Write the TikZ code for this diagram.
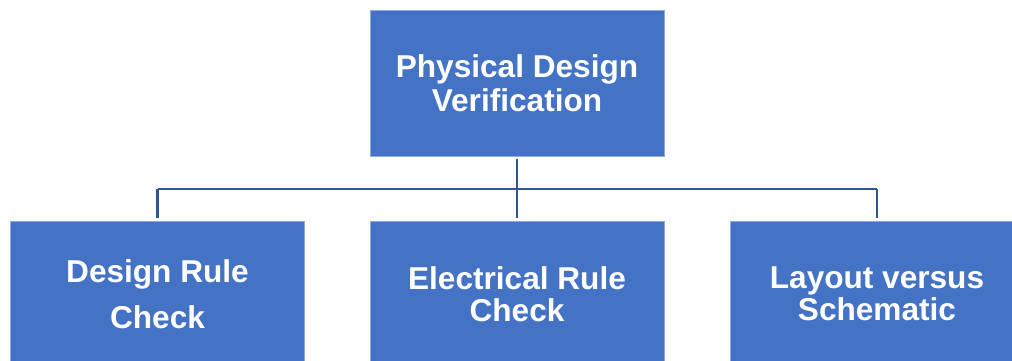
\documentclass[tikz,border=0pt]{standalone}
\usepackage{fontspec}
\setmainfont{Liberation Sans}
\definecolor{boxblue}{HTML}{4472C4}
\definecolor{boxedge}{HTML}{8FAADC}
\definecolor{linkblue}{HTML}{2F5597}
\begin{document}
\begin{tikzpicture}[x=1pt,y=-1pt,
  box/.style={fill=boxblue, draw=boxedge, line width=0.8pt,
    minimum width=294pt, minimum height=146pt, inner sep=0pt,
    text=white, align=center},
  heading/.style={font=\bfseries\fontsize{31.6}{#1}\selectfont},
  link/.style={draw=linkblue, line width=2.4pt}]
  \useasboundingbox (0,0) rectangle (1012,360);

  % root and the three checks
  \node[box, heading=34] (pdv) at (517,83) {Physical Design\\Verification};
  \node[box, heading=46] (drc) at (157.5,294) {Design Rule\\Check};
  \node[box, heading=32] (erc) at (517,294) {Electrical Rule\\Check};
  \node[box, heading=32] (lvs) at (877,294) {Layout versus\\Schematic};

  % tree connectors
  \coordinate (bus) at (517,189);
  \draw[link] ([yshift=-3pt]pdv.south) -- ([yshift=3pt]erc.north);
  \draw[link] (drc.north |- bus) -- (lvs.north |- bus);
  \draw[link] (drc.north |- bus) -- ([yshift=3pt]drc.north);
  \draw[link] (lvs.north |- bus) -- ([yshift=3pt]lvs.north);
\end{tikzpicture}
\end{document}
